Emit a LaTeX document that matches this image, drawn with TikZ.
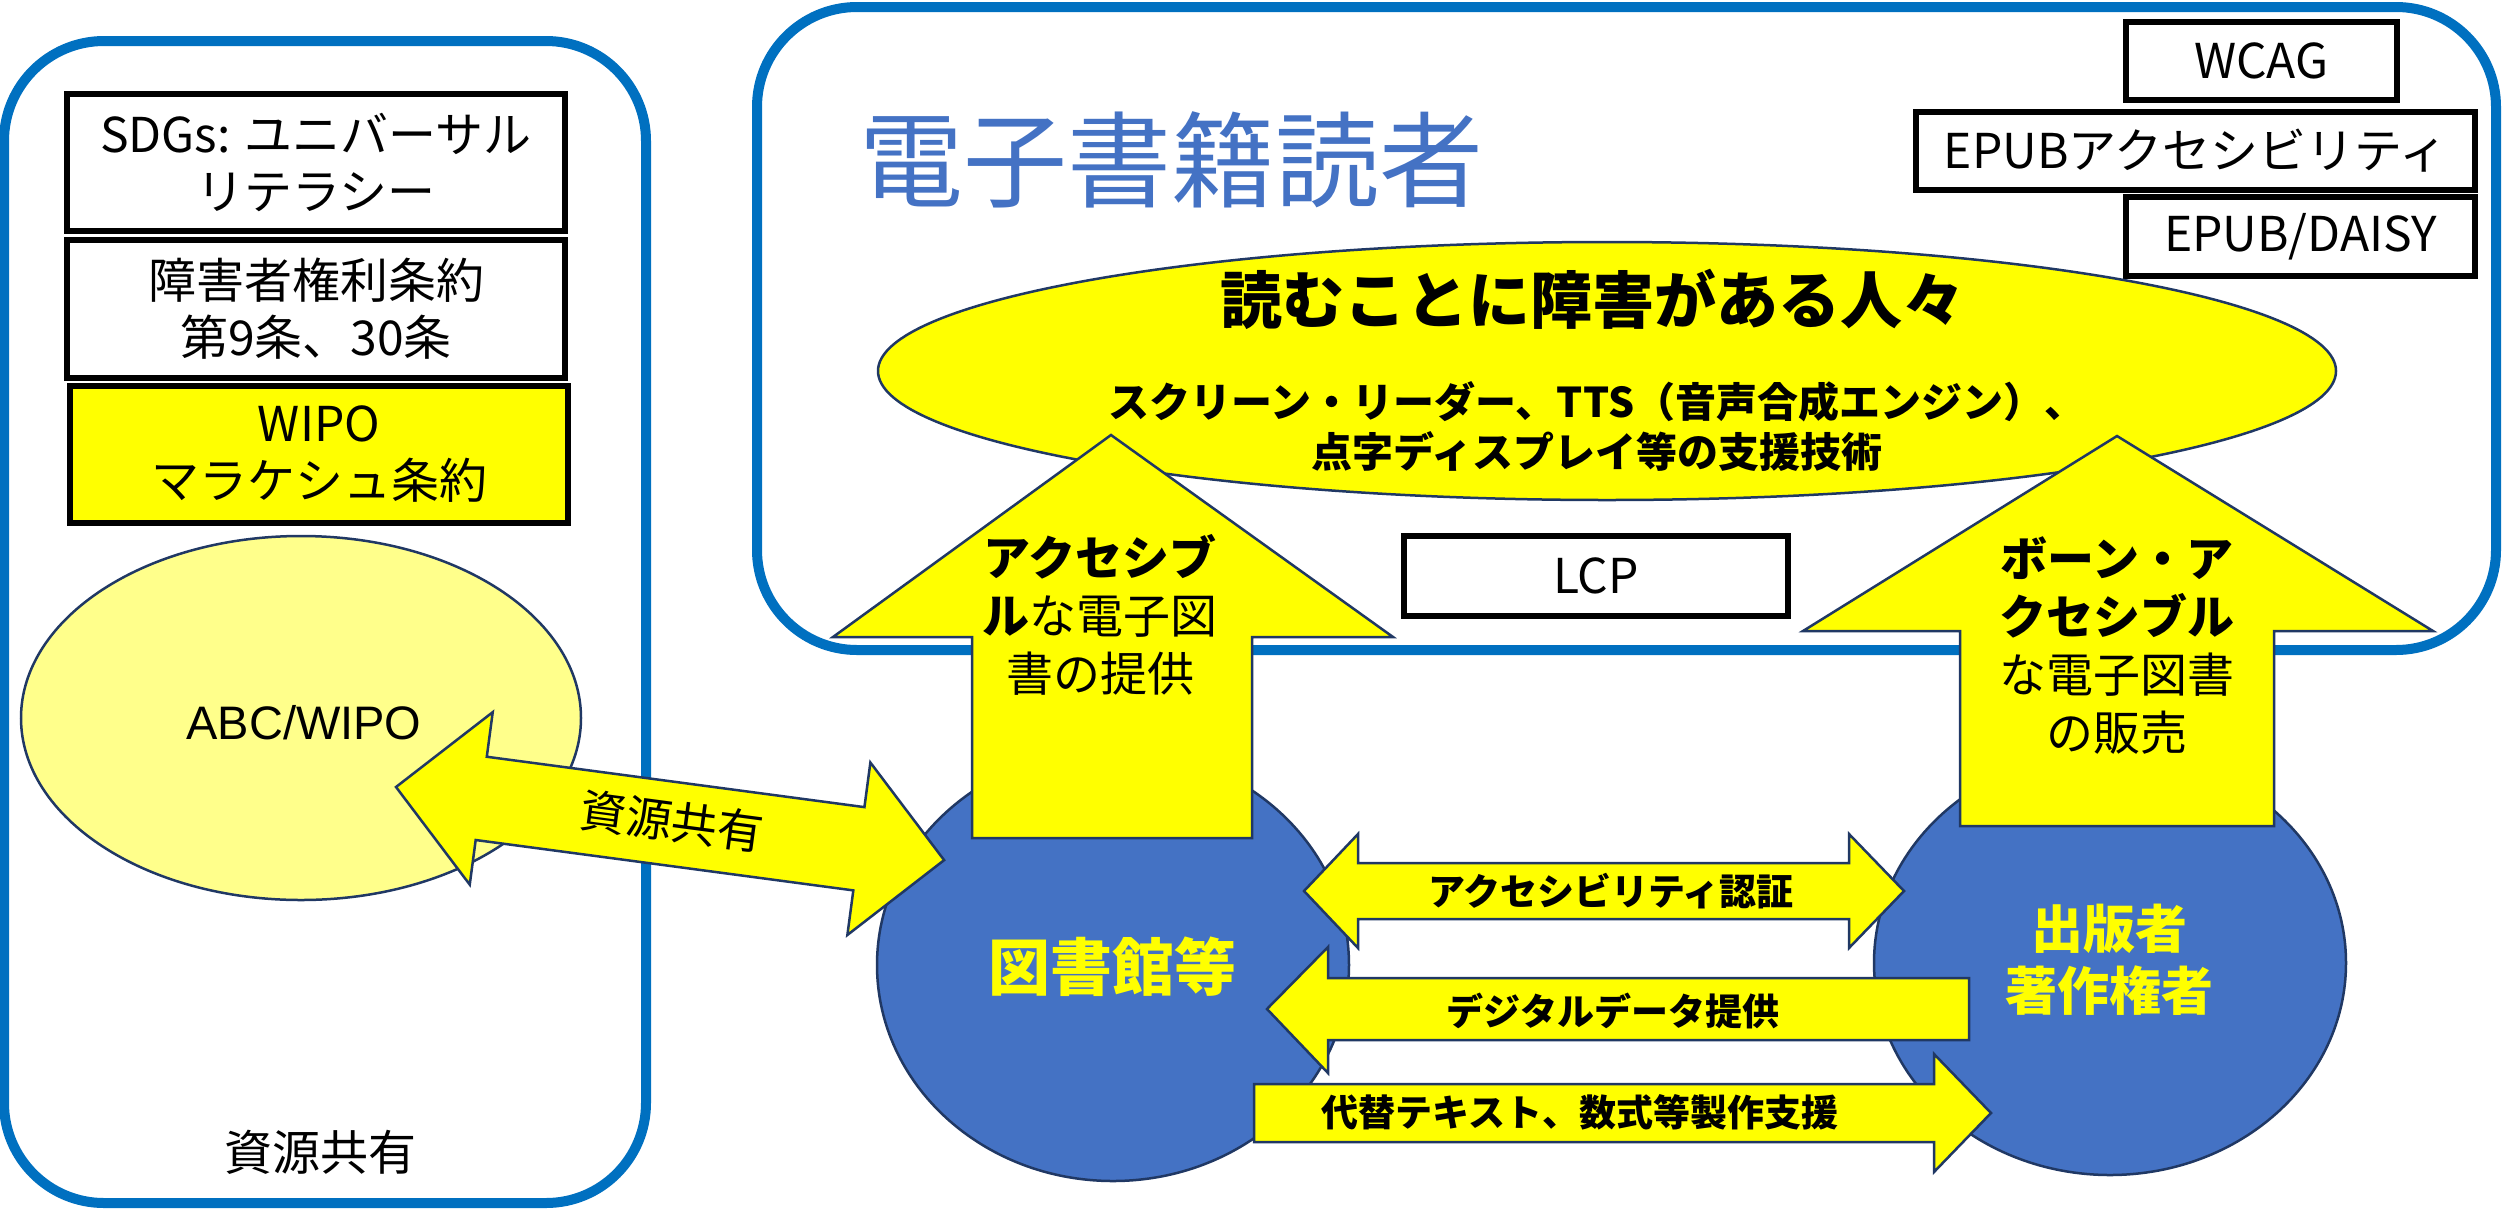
\documentclass[tikz,border=0pt]{standalone}
\usepackage{fontspec}
\setmainfont{Noto Sans CJK JP}
\newfontfamily\arialf{Liberation Sans}
\usetikzlibrary{shapes.geometric}
\definecolor{bborder}{HTML}{0070C0}
\definecolor{ttl}{HTML}{4472C4}
\definecolor{cblue}{HTML}{4472C4}
\definecolor{navy}{HTML}{203864}
\definecolor{ylw}{HTML}{FFFF00}
\definecolor{lylw}{HTML}{FFFF8B}
\newcommand{\fs}[2]{\fontsize{#1}{#2}\selectfont}
\begin{document}
\begin{tikzpicture}[x=1pt,y=-1pt,
  outer/.style={draw=bborder,line width=10pt,rounded corners=100pt},
  lbox/.style={draw=black,line width=5.5pt,fill=white,inner sep=0pt,align=center,font=\fs{48}{57}},
  yarrow/.style={fill=ylw,draw=navy,line width=2.5pt,line join=miter},
  txt/.style={inner sep=0pt,align=center},
  blob/.style={ellipse,draw=navy,line width=2.5pt,inner sep=0pt},
]
\useasboundingbox[fill=white] (0,0) rectangle (2509,1211);

% panels
\draw[outer] (4,41) rectangle (646,1203);
\draw[outer] (757,7) rectangle (2496,650);

% ABC/WIPO ellipse
\node[blob,fill=lylw,minimum width=560pt,minimum height=364pt] (abc) at (301,718) {};

% label boxes (left)
\node[lbox,minimum width=498pt,minimum height=137pt] (sdg) at (316,162.5) {SDGs: ユニバーサル\\リテラシー};
\node[lbox,minimum width=498pt,minimum height=138pt] (crpd) at (316,309) {障害者権利条約\\第9条、30条};
\node[lbox,fill=ylw,minimum width=498pt,minimum height=137pt] (mara) at (319,454.5) {WIPO\\マラケシュ条約};

% label boxes (right)
\node[lbox,minimum width=271pt,minimum height=78pt] (wcag) at (2261.5,61) {WCAG};
\node[lbox,minimum width=559pt,minimum height=78pt] (epuba) at (2195.5,151) {EPUBアクセシビリティ};
\node[lbox,minimum width=349pt,minimum height=79pt] (daisy) at (2300.5,236.5) {EPUB/DAISY};
\node[lbox,minimum width=384pt,minimum height=80pt] (lcp) at (1596,576) {LCP};

% title
\node[txt,text=ttl,font=\fs{104}{110}] (title) at (1171,160) {電子書籍読者};

% readers ellipse
\node[blob,fill=ylw,minimum width=1458pt,minimum height=258pt] (readers) at (1607,371) {};

% library and publisher
\node[blob,fill=cblue,minimum width=472pt,minimum height=432pt] (lib) at (1113,965) {};
\node[blob,fill=cblue,minimum width=472pt,minimum height=424pt] (pub) at (2110,963) {};

% up arrows
\draw[yarrow] (1111,435) -- (1393,637) -- (1252,637) -- (1252,838) -- (972,838) -- (972,637) -- (833,637) -- cycle;
\draw[yarrow] (2117,436) -- (2433,631) -- (2274,631) -- (2274,826) -- (1960,826) -- (1960,631) -- (1803,631) -- cycle;

% horizontal arrows
\draw[yarrow] (1304,891) -- (1358,834) -- (1358,863) -- (1849,863) -- (1849,834) -- (1904,891) -- (1849,948) -- (1849,919) -- (1358,919) -- (1358,948) -- cycle;
\draw[yarrow] (1267,1009) -- (1328,947) -- (1328,978) -- (1969,978) -- (1969,1040) -- (1328,1040) -- (1328,1073) -- cycle;
\draw[yarrow] (1254,1084) -- (1934,1084) -- (1934,1054) -- (1991,1113) -- (1934,1172) -- (1934,1142) -- (1254,1142) -- cycle;

% diagonal double arrow
\begin{scope}[shift={(396,787)},rotate=-7.6]
\draw[yarrow] (0,0) -- (86,-87) -- (86,-42) -- (467,-42) -- (467,-87) -- (553,0) -- (467,87) -- (467,42) -- (86,42) -- (86,87) -- cycle;
\end{scope}

% texts
\node[txt,font=\bfseries\fs{62}{70}] (rd1) at (1592,299) {読むことに障害がある人々};
\node[txt,font=\bfseries\fs{41}{50}] (rd2) at (1597,426) {スクリーン・リーダー、TTS（音声合成エンジン）、\\点字ディスプレイ等の支援技術};
\node[txt,font=\fs{47}{58}] (acc) at (1100,615) {\textbf{アクセシブ}\\\textbf{ル}な電子図\\書の提供};
\node[txt,font=\fs{47}{58}] (born) at (2117,646) {\textbf{ボーン・ア}\\\textbf{クセシブル}\\な電子図書\\の販売};
\node[txt,text=ylw,font=\bfseries\fs{62}{70}] (libt) at (1112,967) {図書館等};
\node[txt,text=ylw,font=\bfseries\fs{52}{62}] (pubt) at (2109,960) {出版者\\著作権者};
\node[txt,font=\bfseries\fs{37}{44}] (cert) at (1611,891) {アクセシビリティ認証};
\node[txt,font=\bfseries\fs{37}{44}] (data) at (1613,1011) {デジタルデータ提供};
\node[txt,font=\bfseries\fs{37}{44}] (alt) at (1580,1112) {代替テキスト、数式等製作支援};
\node[txt,rotate=-7.6,font=\fs{46}{52}] (share) at (672,821) {資源共有};
\node[txt,font=\arialf\fs{47}{52}] (abct) at (304,723) {ABC/WIPO};
\node[txt,font=\fs{48}{56}] (shareb) at (320,1152) {資源共有};
\end{tikzpicture}
\end{document}
